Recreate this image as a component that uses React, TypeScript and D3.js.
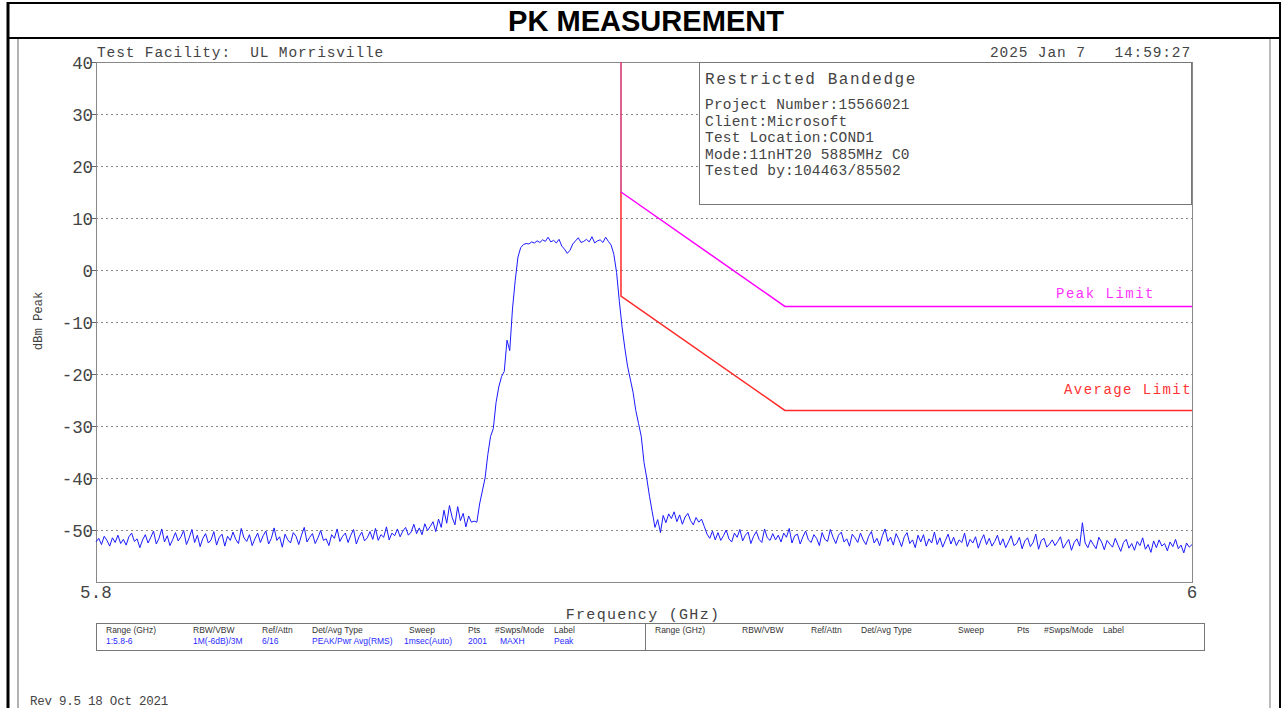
import React from 'react';
import * as d3 from 'd3';

// sweep: 5.8 - 6.0 GHz, one reading every 0.5 MHz
const traceStartGHz = 5.8;
const traceStepGHz = 0.0005;
const traceDbm = [
  -52.3, -51.6, -52.8, -51.2, -52.0, -53.1, -51.5, -52.4, -51.0, -52.6, // 5.800
  -51.8, -52.9, -51.3, -50.6, -52.2, -51.7, -53.4, -51.9, -50.9, -52.5, // 5.805
  -51.4, -50.2, -52.7, -51.6, -49.8, -52.3, -51.1, -53.0, -51.8, -50.5, // 5.810
  -52.1, -51.3, -50.1, -52.8, -51.5, -49.9, -52.4, -51.0, -53.2, -51.6, // 5.815
  -50.7, -52.5, -51.9, -50.3, -52.9, -51.4, -50.8, -53.1, -51.2, -52.0, // 5.820
  -50.4, -51.8, -52.6, -49.7, -51.5, -52.2, -50.9, -53.0, -51.7, -50.6, // 5.825
  -52.4, -51.1, -50.2, -52.7, -51.6, -49.6, -52.0, -51.3, -53.3, -50.8, // 5.830
  -51.9, -52.5, -50.5, -51.2, -52.8, -51.0, -49.5, -52.3, -51.4, -50.7, // 5.835
  -52.6, -51.5, -50.1, -52.0, -51.7, -53.0, -50.9, -51.6, -49.8, -52.2, // 5.840
  -51.2, -50.6, -52.4, -51.0, -49.9, -52.7, -51.3, -50.4, -52.1, -51.5, // 5.845
  -50.3, -51.8, -49.7, -52.0, -50.9, -51.4, -49.4, -51.9, -50.6, -51.1, // 5.850
  -49.8, -51.3, -50.2, -49.5, -51.0, -50.4, -48.9, -50.7, -49.6, -50.9, // 5.855
  -48.8, -50.1, -49.3, -48.4, -50.3, -47.9, -49.5, -46.2, -48.7, -45.3, // 5.860
  -47.6, -49.0, -45.5, -48.2, -46.8, -49.4, -47.3, -48.5, -48.3, -48.5, // 5.865
  -45.0, -42.5, -40.0, -35.5, -32.0, -30.5, -25.5, -22.5, -20.5, -19.5, // 5.870
  -13.5, -15.5, -7.5, -2.0, 2.5, 4.3, 4.9, 5.1, 5.0, 5.4, // 5.875
  5.2, 5.6, 5.3, 5.8, 5.5, 6.3, 5.4, 5.7, 5.2, 5.9, // 5.880
  4.6, 4.0, 3.2, 3.8, 5.0, 5.6, 6.2, 5.3, 5.5, 5.9, // 5.885
  5.4, 6.4, 5.2, 5.6, 5.8, 5.3, 6.3, 5.5, 4.8, 3.0, // 5.890
  -0.5, -6.0, -11.0, -15.0, -18.5, -21.0, -23.5, -27.0, -29.5, -32.0, // 5.895
  -37.0, -40.0, -43.5, -46.5, -49.5, -48.0, -50.5, -47.2, -48.6, -46.9, // 5.900
  -47.8, -46.5, -48.4, -47.1, -48.9, -47.5, -46.8, -48.2, -49.0, -47.6, // 5.905
  -48.5, -47.9, -49.3, -50.8, -51.6, -50.2, -51.9, -50.5, -52.0, -51.1, // 5.910
  -50.0, -51.7, -52.3, -50.6, -51.4, -49.9, -52.1, -51.0, -50.4, -52.6, // 5.915
  -51.2, -50.3, -51.8, -52.4, -49.8, -51.5, -52.0, -50.7, -51.9, -51.0, // 5.920
  -52.3, -50.6, -51.4, -49.7, -52.5, -51.1, -50.8, -52.7, -51.3, -50.2, // 5.925
  -51.9, -52.4, -50.9, -51.6, -53.0, -50.5, -51.8, -52.2, -49.9, -51.4, // 5.930
  -52.6, -51.0, -50.4, -52.3, -51.7, -53.1, -50.8, -51.5, -52.4, -50.6, // 5.935
  -51.9, -52.8, -51.2, -50.3, -52.5, -51.6, -53.0, -51.1, -49.8, -52.2, // 5.940
  -51.4, -52.9, -50.7, -51.8, -53.2, -51.3, -50.5, -52.6, -51.9, -53.4, // 5.945
  -51.0, -52.3, -50.9, -53.1, -51.7, -52.5, -50.4, -52.8, -51.5, -53.3, // 5.950
  -52.0, -50.8, -52.7, -51.4, -53.0, -51.9, -52.4, -50.6, -53.2, -51.8, // 5.955
  -52.5, -51.3, -53.5, -52.0, -50.9, -52.8, -51.6, -53.1, -52.2, -51.0, // 5.960
  -52.9, -51.7, -53.4, -52.3, -51.1, -53.0, -52.6, -51.4, -53.6, -52.1, // 5.965
  -51.5, -53.2, -52.4, -50.8, -53.7, -52.0, -51.6, -53.3, -52.7, -51.9, // 5.970
  -53.0, -52.2, -51.3, -53.5, -52.6, -51.8, -53.9, -52.4, -51.7, -53.1, // 5.975
  -48.6, -52.5, -53.4, -51.9, -52.8, -53.6, -51.4, -52.3, -53.8, -52.0, // 5.980
  -52.7, -53.3, -51.6, -52.9, -54.1, -52.4, -51.8, -53.5, -52.6, -53.9, // 5.985
  -52.2, -53.0, -51.5, -53.7, -52.8, -54.3, -52.1, -53.4, -51.9, -53.1, // 5.990
  -52.6, -54.0, -52.3, -53.2, -51.8, -53.6, -52.9, -54.4, -52.5, -53.3, // 5.995
  -52.8, // 6.000
];

// limit lines (GHz, dBm)
const limitFreqs = [5.8958, 5.8958, 5.9257, 6.0];
const peakLimit = [40, 15, -7, -7];
const avgLimit = [40, -5, -27, -27];

const yTicks = [40, 30, 20, 10, 0, -10, -20, -30, -40, -50];
const gridTicks = [30, 20, 10, 0, -10, -20, -30, -40, -50];

const infoLines = [
  'Project Number:15566021',
  'Client:Microsoft',
  'Test Location:COND1',
  'Mode:11nHT20 5885MHz C0',
  'Tested by:104463/85502',
];

const tableHeaders = ['Range (GHz)', 'RBW/VBW', 'Ref/Attn', 'Det/Avg Type', 'Sweep', 'Pts', '#Swps/Mode', 'Label'];
const tableValues = ['1:5.8-6', '1M(-6dB)/3M', '6/16', 'PEAK/Pwr Avg(RMS)', '1msec(Auto)', '2001', 'MAXH', 'Peak'];
const headerCols = [106, 193, 262, 312, 409, 468, 495, 554];
const valueCols = [106, 193, 262, 312, 404, 468, 500, 554];

const W = 1282;
const H = 708;
const plot = { left: 96, right: 1192, top: 62, bottom: 582 };

const MONO = '"Liberation Mono", "DejaVu Sans Mono", monospace';
const SANS = '"Liberation Sans", Arial, sans-serif';
const TXT = '#444';

// plotter-ish text: monospace with a fixed advance per character
const PText = ({ x, y, fs, cw, anchor = 'start', fill = TXT, children, transform }: any) => (
  <text
    x={x}
    y={y}
    fontFamily={MONO}
    fontSize={fs}
    letterSpacing={cw - 0.6 * fs}
    textAnchor={anchor}
    fill={fill}
    transform={transform}
    style={{ whiteSpace: 'pre' }}
  >
    {children}
  </text>
);

const App = () => {
  const xScale = d3.scaleLinear().domain([5.8, 6.0]).range([plot.left, plot.right]);
  const yScale = d3.scaleLinear().domain([-60, 40]).range([plot.bottom, plot.top]);

  const tracePts: [number, number][] = traceDbm.map((v, i) => [traceStartGHz + i * traceStepGHz, v]);
  const line = d3
    .line<[number, number]>()
    .x((d) => xScale(d[0]))
    .y((d) => yScale(d[1]));

  const peakPts = limitFreqs.map((f, i) => [f, peakLimit[i]] as [number, number]);
  const avgPts = limitFreqs.map((f, i) => [f, avgLimit[i]] as [number, number]);

  const tableMid = 645;

  return (
    <svg
      width={W}
      height={H}
      style={{ position: 'absolute', left: 0, top: 0, display: 'block', background: '#fff' }}
    >
      {/* page frame */}
      <line x1={8} y1={3} x2={1281} y2={3} stroke="#000" strokeWidth={2} />
      <line x1={8} y1={38} x2={1281} y2={38} stroke="#000" strokeWidth={2} />
      <line x1={8} y1={2} x2={8} y2={H} stroke="#000" strokeWidth={3} />
      <line x1={1280} y1={2} x2={1280} y2={H} stroke="#000" strokeWidth={2} />
      <line x1={18} y1={39} x2={18} y2={H} stroke="#666" strokeWidth={1} />
      <line x1={1270} y1={39} x2={1270} y2={H} stroke="#777" strokeWidth={1} />

      <text
        x={646}
        y={31}
        textAnchor="middle"
        fontFamily={SANS}
        fontWeight="bold"
        fontSize={29}
        textLength={276}
        lengthAdjust="spacingAndGlyphs"
        fill="#000"
      >
        PK MEASUREMENT
      </text>

      {/* header texts */}
      <PText x={97} y={57} fs={14.5} cw={9.57}>Test Facility:  UL Morrisville</PText>
      <PText x={1191} y={57} fs={14.5} cw={9.57} anchor="end">2025 Jan 7   14:59:27</PText>

      {/* grid */}
      {gridTicks.map((t) => (
        <line
          key={'g' + t}
          x1={plot.left}
          x2={plot.right}
          y1={Math.round(yScale(t)) + 0.5}
          y2={Math.round(yScale(t)) + 0.5}
          stroke="#888"
          strokeWidth={1}
          strokeDasharray="2,3"
        />
      ))}

      {/* frame */}
      <rect
        x={plot.left + 0.5}
        y={plot.top + 0.5}
        width={plot.right - plot.left}
        height={plot.bottom - plot.top}
        fill="none"
        stroke="#888"
        strokeWidth={1}
      />

      {/* y axis */}
      {yTicks.map((t) => (
        <g key={'y' + t}>
          <line x1={92} x2={plot.left} y1={yScale(t) + 0.5} y2={yScale(t) + 0.5} stroke="#666" />
          <PText x={93} y={yScale(t) + 7} fs={17.5} cw={10.4} anchor="end">
            {String(t)}
          </PText>
        </g>
      ))}
      <PText x={42} y={321} fs={12.5} cw={7.3} anchor="middle" transform="rotate(-90 42 321)">
        dBm Peak
      </PText>

      {/* x axis */}
      <PText x={xScale(5.8)} y={598} fs={17.5} cw={10.6} anchor="middle">5.8</PText>
      <PText x={xScale(6.0)} y={598} fs={17.5} cw={10.6} anchor="middle">6</PText>
      <PText x={643} y={619} fs={15} cw={10.3} anchor="middle">Frequency (GHz)</PText>

      {/* info box */}
      <rect x={699.5} y={62.5} width={492} height={142} fill="#fff" stroke="#777" strokeWidth={1} />
      <PText x={705} y={84} fs={16} cw={11.15}>Restricted Bandedge</PText>
      {infoLines.map((s, i) => (
        <PText key={s} x={705} y={109 + i * 16.6} fs={14.5} cw={8.9}>
          {s}
        </PText>
      ))}

      {/* limits */}
      <path d={line(avgPts) || ''} fill="none" stroke="#ff2a2a" strokeWidth={1.5} />
      <path d={line(peakPts.slice(1)) || ''} fill="none" stroke="#ff00ff" strokeWidth={1.5} />
      <path d={line(peakPts.slice(0, 2)) || ''} fill="none" stroke="#c060c0" strokeWidth={1} />
      <PText x={1056} y={298} fs={14} cw={9.9} fill="#ff33ff">Peak Limit</PText>
      <PText x={1064} y={394} fs={14} cw={9.85} fill="#ff3333">Average Limit</PText>

      {/* trace */}
      <path d={line(tracePts) || ''} fill="none" stroke="#1a1aff" strokeWidth={1} strokeLinejoin="round" />

      {/* settings table */}
      <rect x={96.5} y={623.5} width={1108} height={27} fill="none" stroke="#777" strokeWidth={1} />
      <line x1={tableMid + 0.5} x2={tableMid + 0.5} y1={623} y2={651} stroke="#777" />
      {tableHeaders.map((h, i) => (
        <g key={'h' + i}>
          <text x={headerCols[i]} y={633} fontFamily={SANS} fontSize={8.5} fill="#333">
            {h}
          </text>
          <text x={headerCols[i] + (tableMid + 10 - 106)} y={633} fontFamily={SANS} fontSize={8.5} fill="#333">
            {h}
          </text>
        </g>
      ))}
      {tableValues.map((v, i) => (
        <text key={'v' + i} x={valueCols[i]} y={644} fontFamily={SANS} fontSize={8.5} fill="#2a2aff">
          {v}
        </text>
      ))}

      <PText x={30} y={705} fs={12.5} cw={7.26}>Rev 9.5 18 Oct 2021</PText>
    </svg>
  );
};

export default App;
